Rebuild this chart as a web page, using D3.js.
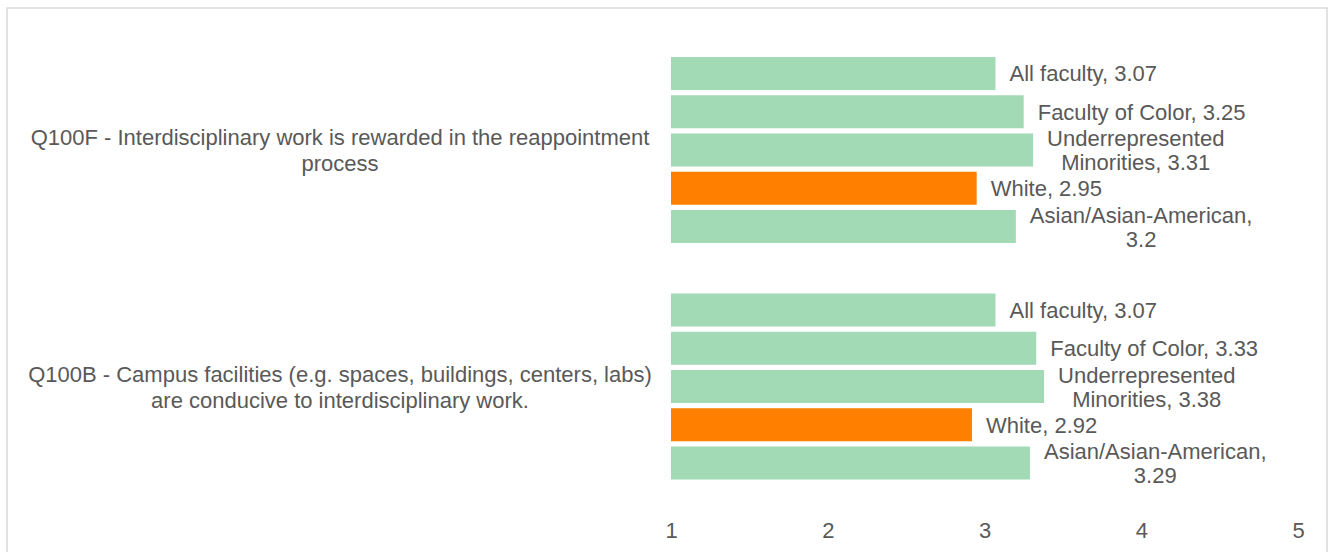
<!DOCTYPE html>
<html>
<head>
<meta charset="utf-8">
<script src="https://cdn.jsdelivr.net/npm/d3@7"></script>
<style>
  body { margin: 0; background: #fff; }
  svg { display: block; font-family: "Liberation Sans", Arial, sans-serif; }
  text { fill: #595959; font-size: 22px; }
</style>
</head>
<body>
<svg id="chart"></svg>
<script>
const width = 1328;
const height = 552;

// chart data
const questions = [
  'Q100F - Interdisciplinary work is rewarded in the reappointment process',
  'Q100B - Campus facilities (e.g. spaces, buildings, centers, labs) are conducive to interdisciplinary work.'
];
const groups = ['All faculty', 'Faculty of Color', 'Underrepresented Minorities', 'White', 'Asian/Asian-American'];
const q100fValues = [3.07, 3.25, 3.31, 2.95, 3.2];
const q100bValues = [3.07, 3.33, 3.38, 2.92, 3.29];
const tickValues = [1, 2, 3, 4, 5];
const highlightGroup = 'White';

const seriesByQuestion = [q100fValues, q100bValues];

const rows = [];
questions.forEach((q, qi) => {
  groups.forEach((g, gi) => {
    rows.push({ question: q, group: g, value: seriesByQuestion[qi][gi] });
  });
});

const svg = d3.select('#chart')
  .attr('width', width)
  .attr('height', height);

// chart area border
svg.append('rect')
  .attr('x', 7)
  .attr('y', 8)
  .attr('width', 1320)
  .attr('height', 600)
  .attr('fill', 'none')
  .attr('stroke', '#d9d9d9')
  .attr('stroke-width', 1.5);

const x = d3.scaleLinear()
  .domain([1, 5])
  .range([671, 1298]);

const y = d3.scaleBand()
  .domain(questions)
  .range([31.75, 504.75]);

const yInner = d3.scaleBand()
  .domain(groups)
  .range([0, y.bandwidth()])
  .paddingInner(0.137)
  .paddingOuter(0.66);

// wraps a text element into centered tspans
const wrap = (textSel, maxWidth, lineHeight) => {
  textSel.each(function () {
    const text = d3.select(this);
    const words = text.text().split(/\s+/);
    const lines = [];
    let line = [];
    text.text(null);
    const probe = text.append('tspan');
    words.forEach((w) => {
      line.push(w);
      probe.text(line.join(' '));
      if (probe.node().getComputedTextLength() > maxWidth && line.length > 1) {
        line.pop();
        lines.push(line.join(' '));
        line = [w];
      }
    });
    lines.push(line.join(' '));
    probe.remove();
    const x0 = +text.attr('x');
    const offset = -(lines.length - 1) / 2 * lineHeight;
    lines.forEach((l, i) => {
      text.append('tspan')
        .attr('x', x0)
        .attr('dy', i === 0 ? offset : lineHeight)
        .text(l);
    });
  });
};

// bars
svg.selectAll('rect.bar')
  .data(rows)
  .enter()
  .append('rect')
    .attr('class', 'bar')
    .attr('x', x(1))
    .attr('y', (d) => y(d.question) + yInner(d.group))
    .attr('width', (d) => x(d.value) - x(1))
    .attr('height', yInner.bandwidth())
    .attr('fill', (d) => d.group === highlightGroup ? '#ff8000' : '#a1dab4');

// value labels, right of each bar
const labels = svg.selectAll('text.value')
  .data(rows)
  .enter()
  .append('text')
    .attr('class', 'value')
    .attr('x', 0)
    .attr('y', (d) => y(d.question) + yInner(d.group) + yInner.bandwidth() / 2)
    .attr('text-anchor', 'middle')
    .attr('dominant-baseline', 'central')
    .text((d) => `${d.group}, ${d.value}`);

wrap(labels, 225, 24);

labels.each(function (d) {
  const text = d3.select(this);
  let w = 0;
  text.selectAll('tspan').each(function () {
    w = Math.max(w, this.getComputedTextLength());
  });
  const cx = x(d.value) + 14 + w / 2;
  text.attr('x', cx);
  text.selectAll('tspan').attr('x', cx);
});

// question labels on the left
const qLabels = svg.selectAll('text.question')
  .data(questions)
  .enter()
  .append('text')
    .attr('class', 'question')
    .attr('x', 340)
    .attr('y', (d) => y(d) + y.bandwidth() / 2)
    .attr('text-anchor', 'middle')
    .attr('dominant-baseline', 'central')
    .text((d) => d);

wrap(qLabels, 660, 26);

// x axis, labels only
const xAxis = svg.append('g')
  .attr('transform', 'translate(0, 522)')
  .call(d3.axisBottom(x).tickValues(tickValues).tickSize(0).tickPadding(0).tickFormat(d3.format('d')));

xAxis.select('.domain').remove();
xAxis.selectAll('text')
  .attr('dy', '0.71em')
  .style('font-size', '22px')
  .style('font-family', '"Liberation Sans", Arial, sans-serif')
  .attr('fill', '#595959');
</script>
</body>
</html>
